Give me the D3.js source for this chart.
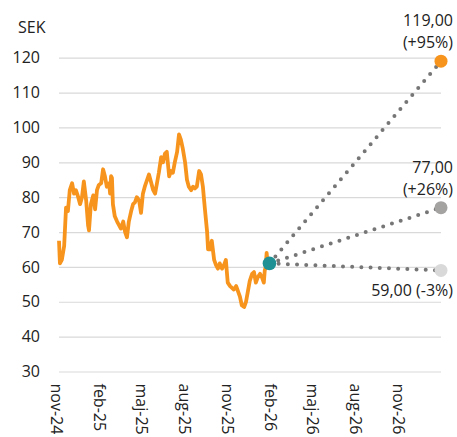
<!DOCTYPE html>
<html>
<head>
<meta charset="utf-8">
<script src="https://cdn.jsdelivr.net/npm/d3@7"></script>
<style>
  html, body { margin: 0; padding: 0; background: #fff; overflow: hidden; }
  svg { display: block; font-family: "Open Sans", "Noto Sans", sans-serif; }
</style>
</head>
<body>
<svg id="chart" width="457" height="437"></svg>
<script>
// ---- data ----
const priceDates = [
  "2024-11-07","2024-11-09","2024-11-13","2024-11-18","2024-11-22","2024-11-26","2024-11-30",
  "2024-12-05","2024-12-09","2024-12-13","2024-12-18","2024-12-22","2024-12-26","2024-12-30",
  "2025-01-04","2025-01-08","2025-01-10","2025-01-14","2025-01-19","2025-01-23","2025-01-27","2025-01-31",
  "2025-02-05","2025-02-09","2025-02-13","2025-02-17","2025-02-22","2025-02-24","2025-02-26","2025-02-28",
  "2025-03-02","2025-03-06","2025-03-11","2025-03-15","2025-03-19","2025-03-24","2025-03-28",
  "2025-04-01","2025-04-05","2025-04-10","2025-04-14","2025-04-18","2025-04-22","2025-04-27",
  "2025-05-01","2025-05-05","2025-05-09","2025-05-14","2025-05-18","2025-05-22","2025-05-27","2025-05-31",
  "2025-06-04","2025-06-08","2025-06-13","2025-06-17","2025-06-21","2025-06-25","2025-06-30",
  "2025-07-04","2025-07-08","2025-07-12","2025-07-17","2025-07-21","2025-07-25","2025-07-29",
  "2025-08-03","2025-08-07","2025-08-11","2025-08-16","2025-08-20","2025-08-24","2025-08-28",
  "2025-09-02","2025-09-06","2025-09-10","2025-09-14","2025-09-19","2025-09-21","2025-09-25","2025-09-29",
  "2025-10-04","2025-10-08","2025-10-12","2025-10-16","2025-10-21","2025-10-25","2025-10-29",
  "2025-11-02","2025-11-07","2025-11-11","2025-11-15","2025-11-20","2025-11-24","2025-11-28",
  "2025-12-02","2025-12-07","2025-12-11","2025-12-15","2025-12-19","2025-12-24","2025-12-28",
  "2026-01-01","2026-01-05","2026-01-10","2026-01-14","2026-01-18","2026-01-20","2026-01-22",
  "2026-01-24","2026-01-26","2026-01-30"
];
const priceValues = [
  67.5, 61, 62, 66, 77, 76, 82,
  84, 81, 82, 80, 78, 80, 84.5,
  79, 72, 70.5, 78, 80.5, 76.5, 82, 83.5,
  84, 88, 86, 83, 84, 81, 86, 85.5,
  78, 74.5, 73, 72, 71, 73, 70,
  68.5, 73, 76, 78, 78.5, 80, 79,
  75.5, 81, 83, 85, 86.5, 84.5, 82, 81,
  84, 87, 91.5, 90, 92.5, 93, 86,
  87.5, 87, 90, 93, 98, 96.5, 94,
  90, 85, 83, 82, 83, 82.5, 83,
  87.5, 86.5, 83, 77, 70, 65, 65, 67.5,
  62, 60.5, 59.5, 61, 59.5, 60.5, 62,
  55.5, 54.5, 54, 53.5, 54.5, 53, 51.5,
  49, 48.5, 50, 53, 56, 58, 58.5,
  55.5, 57, 58, 57, 55.5, 59, 60,
  64, 61, 61
];
const currentDate = "2026-01-30";
const currentPrice = 61;
const targetDate = "2027-01-31";
const targetValues = [119, 77, 59];
const targetChange = ["(+95%)", "(+26%)", "(-3%)"];
const targetColors = ["#F7941D", "#A5A2A2", "#D9D9D9"];
const yTicks = [30, 40, 50, 60, 70, 80, 90, 100, 110, 120];
const xTickDates = ["2024-11-01","2025-02-01","2025-05-01","2025-08-01","2025-11-01","2026-02-01","2026-05-01","2026-08-01","2026-11-01"];
const xTickLabels = ["nov-24","feb-25","maj-25","aug-25","nov-25","feb-26","maj-26","aug-26","nov-26"];
const unitLabel = "SEK";

// ---- setup ----
const parse = d3.timeParse("%Y-%m-%d");
const svg = d3.select("#chart");
const plotLeft = 59, plotRight = 441, plotTop = 57.7, plotBottom = 371.5;
const textColor = "#222";

const x = d3.scaleTime()
  .domain([parse("2024-11-07"), parse("2027-01-31")])
  .range([plotLeft, plotRight]);
const y = d3.scaleLinear().domain([30, 120]).range([plotBottom, plotTop]);

const sek = d3.formatLocale({decimal: ",", thousands: " ", grouping: [3], currency: ["", " SEK"]}).format(".2f");

// y axis + gridlines
const yAxis = svg.append("g")
  .attr("transform", `translate(${plotLeft},0)`)
  .call(d3.axisLeft(y).tickValues(yTicks).tickSize(-(plotRight - plotLeft)).tickPadding(19).tickFormat(d3.format("d")));
yAxis.select(".domain").remove();
yAxis.selectAll(".tick line").attr("stroke", "#d9d9d9").attr("stroke-width", 1.2);
yAxis.selectAll(".tick text")
  .attr("fill", textColor).style("font-size", "16px")
  .style("font-family", "'Open Sans', 'Noto Sans', sans-serif");

// x axis labels
const xAxis = svg.append("g")
  .attr("transform", `translate(0,${plotBottom})`)
  .call(d3.axisBottom(x).tickValues(xTickDates.map(parse)).tickSize(0)
    .tickFormat((d, i) => xTickLabels[i]));
xAxis.select(".domain").remove();
xAxis.selectAll(".tick text")
  .attr("fill", textColor).style("font-size", "16px")
  .style("font-family", "'Open Sans', 'Noto Sans', sans-serif")
  .attr("transform", "rotate(90)")
  .attr("text-anchor", "start")
  .attr("x", 12)
  .attr("y", 0)
  .attr("dy", "0.35em");

// unit label
svg.append("text").attr("x", 18).attr("y", 33)
  .attr("fill", textColor).style("font-size", "16px").text(unitLabel);

// price line
const series = priceDates.map((d, i) => ({date: parse(d), value: priceValues[i]}));
svg.append("path")
  .datum(series)
  .attr("fill", "none")
  .attr("stroke", "#F7941D")
  .attr("stroke-width", 3.8)
  .attr("stroke-linejoin", "round")
  .attr("d", d3.line().x(d => x(d.date)).y(d => y(d.value)));

// target dotted lines
const cx = x(parse(currentDate)), cy = y(currentPrice);
const tx = x(parse(targetDate));
targetValues.forEach(v => {
  svg.append("line")
    .attr("x1", cx).attr("y1", cy).attr("x2", tx).attr("y2", y(v))
    .attr("stroke", "#767676").attr("stroke-width", 4)
    .attr("stroke-linecap", "round").attr("stroke-dasharray", "0 9.2");
});

// target dots
targetValues.forEach((v, i) => {
  svg.append("circle").attr("cx", tx).attr("cy", y(v)).attr("r", 6.5).attr("fill", targetColors[i]);
});

// current dot
svg.append("circle").attr("cx", cx).attr("cy", cy).attr("r", 6.8).attr("fill", "#1F9194");

// target labels
const labelX = 453;
targetValues.forEach((v, i) => {
  const ty = y(v);
  if (i < 2) {
    svg.append("text").attr("x", labelX).attr("y", ty - 35).attr("text-anchor", "end")
      .attr("fill", textColor).style("font-size", "16px").text(sek(v));
    svg.append("text").attr("x", labelX).attr("y", ty - 13).attr("text-anchor", "end")
      .attr("fill", textColor).style("font-size", "16px").text(targetChange[i]);
  } else {
    svg.append("text").attr("x", labelX).attr("y", ty + 26).attr("text-anchor", "end")
      .attr("fill", textColor).style("font-size", "16px").text(sek(v) + " " + targetChange[i]);
  }
});
</script>
</body>
</html>
